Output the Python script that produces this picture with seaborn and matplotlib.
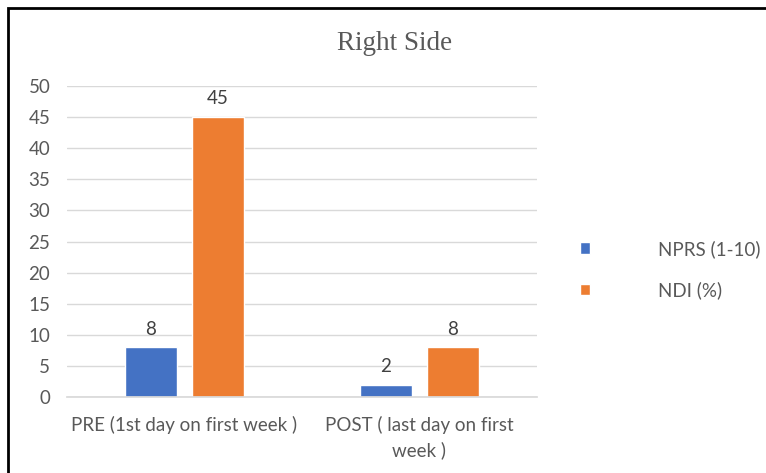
import matplotlib

matplotlib.use("Agg")
import matplotlib.pyplot as plt  # noqa: E402
import pandas as pd  # noqa: E402
import seaborn as sns  # noqa: E402
from matplotlib.patches import Rectangle  # noqa: E402

# data
categories = ["PRE (1st day on first week )", "POST ( last day on first\nweek )"]
series = ["NPRS (1-10)", "NDI (%)"]
npr_values = [8, 2]
ndi_values = [45, 8]
colors = ["#4472C4", "#ED7D31"]

df = pd.DataFrame({
    "phase": categories * 2,
    "measure": [series[0]] * 2 + [series[1]] * 2,
    "value": npr_values + ndi_values,
})

sns.set_theme(style="white")
plt.rcParams["font.family"] = ["Lato", "DejaVu Sans"]
text_grey = "#595959"
fs = 13.5

fig = plt.figure(figsize=(7.66, 4.73), dpi=100)
ax = fig.add_axes([67 / 766, 1 - 397 / 473, 470 / 766, 311 / 473])

sns.barplot(data=df, x="phase", y="value", hue="measure", order=categories,
            hue_order=series, palette=colors, width=0.57, gap=0.21,
            saturation=1, ax=ax)

ax.set_ylim(0, 50)
ax.set_xlim(-0.5, 1.5)
ax.set_yticks(range(0, 51, 5))
ax.yaxis.grid(True, color="#D9D9D9", lw=1)
ax.set_axisbelow(True)
for side in ["top", "right", "left"]:
    ax.spines[side].set_visible(False)
ax.spines["bottom"].set_color("#D9D9D9")
ax.tick_params(axis="both", length=0, labelsize=fs, labelcolor=text_grey)
ax.tick_params(axis="y", pad=12)
ax.tick_params(axis="x", pad=13.5)
for lbl in ax.get_xticklabels():
    lbl.set_linespacing(1.5)
ax.set_xlabel("")
ax.set_ylabel("")

for cont in ax.containers:
    ax.bar_label(cont, padding=7, fontsize=fs, color="#404040")

leg = ax.legend(loc="center left", bbox_to_anchor=(1.055, 0.41), frameon=False,
                handlelength=0.55, handleheight=0.55, handletextpad=3.6,
                labelspacing=1.25, fontsize=fs)
for t in leg.get_texts():
    t.set_color(text_grey)

fig.text(395 / 766, 1 - 44 / 473, "Right Side", ha="center", va="center",
         fontsize=19.5, color=text_grey, family="Liberation Serif")

# outer chart border (left and top edges visible in the crop)
fig.add_artist(Rectangle((8 / 766, -0.1), 1.2, 1.1 - 8.5 / 473, fill=False,
                         lw=2, edgecolor="black", transform=fig.transFigure))

fig.savefig("out.png", dpi=100)
